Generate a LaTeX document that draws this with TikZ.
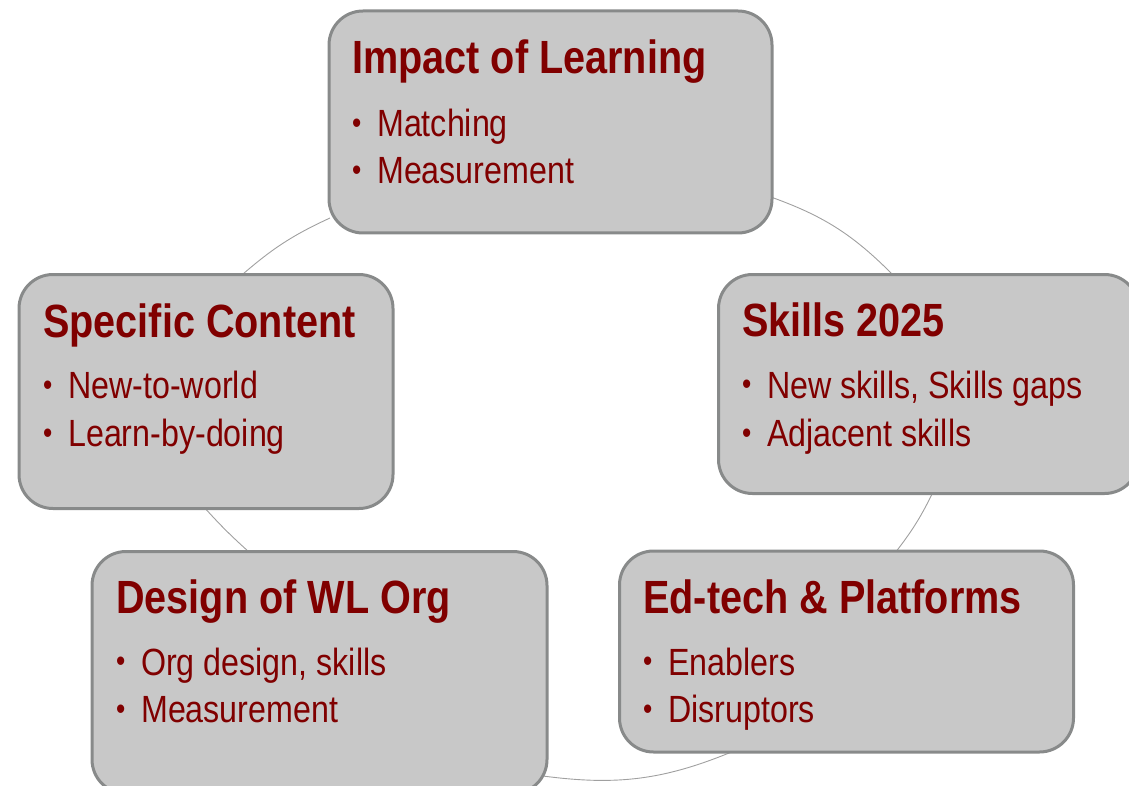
\documentclass[tikz,border=0pt]{standalone}
\usepackage{graphicx}
\usepackage{fontspec}
\setmainfont{Liberation Sans}[FakeStretch=0.85]
\definecolor{boxfill}{RGB}{200,200,200}
\definecolor{boxline}{RGB}{136,138,138}
\definecolor{arcline}{RGB}{160,160,160}
\definecolor{txtred}{RGB}{128,0,0}
\tikzset{
  cbox/.style={draw=boxline, fill=boxfill, line width=3pt, rounded corners=34pt, inner sep=0pt, anchor=north west},
  ctitle/.style={anchor=base west, inner sep=0pt, text=txtred, font=\fontsize{46.6}{50}\selectfont\bfseries},
  citem/.style={anchor=base west, inner sep=0pt, text=txtred, font=\fontsize{37.9}{40}\selectfont},
  carc/.style={draw=arcline, line width=0.9pt}
}
\newcommand{\bul}[1]{\makebox[26pt][l]{\hspace{1pt}\raisebox{3.2pt}{\scalebox{0.82}{\textbullet}}}#1}
\begin{document}
\begin{tikzpicture}[x=1pt,y=-1pt]
\useasboundingbox (0,0) rectangle (1129,786);
% arc end points
\coordinate (c1a) at (768,196);
\coordinate (c1b) at (894,276);
\coordinate (c2a) at (934,490);
\coordinate (c2b) at (895,553);
\coordinate (c3a) at (734,751);
\coordinate (c3b) at (543,776);
\coordinate (c4a) at (249,552);
\coordinate (c4b) at (203,506);
\coordinate (c5a) at (243,274);
\coordinate (c5b) at (330,218);
% arcs
\draw[carc] (c1a) to[bend left=13] (c1b);
\draw[carc] (c2a) to[bend left=6] (c2b);
\draw[carc] (c3a) to[bend left=15] (c3b);
\draw[carc] (c4a) to[bend left=3] (c4b);
\draw[carc] (c5a) to[bend left=8] (c5b);
% boxes
\node[cbox, minimum width=443pt, minimum height=222pt] (imp) at (327.5,9.5) {};
\node[cbox, minimum width=374pt, minimum height=234pt] (spec) at (17.5,273) {};
\node[cbox, minimum width=420pt, minimum height=219pt] (skill) at (717,273) {};
\node[cbox, minimum width=455pt, minimum height=242pt] (design) at (90.5,550) {};
\node[cbox, minimum width=454pt, minimum height=201pt] (edtech) at (618,549.5) {};
% texts
\node[ctitle] (impT) at (352,74) {Impact of Learning};
\node[citem] (imp1) at (351,136.7) {\bul{Matching}};
\node[citem] (imp2) at (351,183.3) {\bul{Measurement}};
\node[ctitle] (specT) at (43,337) {Specific Content};
\node[citem] (spec1) at (42,398.3) {\bul{New-to-world}};
\node[citem] (spec2) at (42,446.7) {\bul{Learn-by-doing}};
\node[ctitle] (skillT) at (742,336.7) {Skills 2025};
\node[citem] (skill1) at (741,398) {\bul{New skills, Skills gaps}};
\node[citem] (skill2) at (741,446.7) {\bul{Adjacent skills}};
\node[ctitle] (edT) at (643,613) {Ed-tech \& Platforms};
\node[citem] (ed1) at (642,675) {\bul{Enablers}};
\node[citem] (ed2) at (642,722.7) {\bul{Disruptors}};
\node[ctitle] (desT) at (116,613) {Design of WL Org};
\node[citem] (des1) at (115,675) {\bul{Org design, skills}};
\node[citem] (des2) at (115,722.7) {\bul{Measurement}};
\end{tikzpicture}
\end{document}
